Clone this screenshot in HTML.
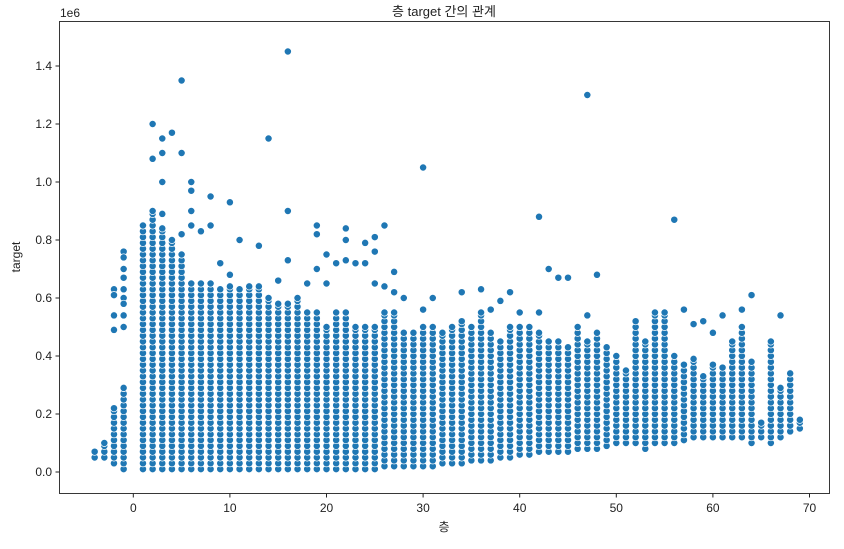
<!DOCTYPE html>
<html><head><meta charset="utf-8"><style>
body{margin:0;background:#fff}
text{font-family:"Liberation Sans","Noto Sans CJK KR",sans-serif;fill:#222}
</style></head><body>
<svg id="chart" width="844" height="544" xmlns="http://www.w3.org/2000/svg">
<text x="444" y="16" font-size="13" text-anchor="middle">층 target 간의 관계</text>
<g id="marks"></g>
<rect x="59.5" y="21.5" width="770" height="472" fill="none" stroke="#222" stroke-width="0.9"/>
<g id="xt"></g>
<g id="yt"></g>
<text x="444" y="531" font-size="12" text-anchor="middle">층</text>
<text transform="translate(20,257) rotate(-90)" font-size="12" text-anchor="middle">target</text>
<text x="60" y="17" font-size="12">1e6</text>
</svg>
<script>
const floors=[-4,-3,-2,-1,1,2,3,4,5,6,7,8,9,10,11,12,13,14,15,16,17,18,19,20,21,22,23,24,25,26,27,28,29,30,31,32,33,34,35,36,37,38,39,40,41,42,43,44,45,46,47,48,49,50,51,52,53,54,55,56,57,58,59,60,61,62,63,64,65,66,67,68,69];
const highs=[0.07,0.1,0.22,0.29,0.85,0.9,0.84,0.8,0.75,0.65,0.65,0.65,0.63,0.64,0.63,0.64,0.64,0.6,0.58,0.58,0.6,0.55,0.55,0.5,0.55,0.55,0.5,0.5,0.5,0.55,0.55,0.48,0.48,0.5,0.5,0.48,0.5,0.52,0.5,0.55,0.48,0.45,0.5,0.5,0.5,0.48,0.45,0.45,0.43,0.5,0.45,0.48,0.43,0.4,0.35,0.52,0.45,0.55,0.55,0.4,0.37,0.39,0.33,0.37,0.36,0.45,0.5,0.38,0.17,0.45,0.29,0.34,0.18];
const lows=[0.05,0.05,0.03,0.01,0.01,0.01,0.01,0.01,0.01,0.01,0.01,0.01,0.01,0.01,0.01,0.01,0.01,0.01,0.01,0.01,0.01,0.01,0.01,0.01,0.01,0.01,0.01,0.01,0.01,0.02,0.02,0.02,0.02,0.02,0.02,0.03,0.03,0.03,0.04,0.04,0.04,0.05,0.05,0.06,0.06,0.07,0.07,0.07,0.07,0.08,0.08,0.08,0.09,0.1,0.1,0.1,0.08,0.1,0.1,0.1,0.11,0.12,0.12,0.12,0.12,0.12,0.12,0.1,0.12,0.1,0.12,0.14,0.15];
const outX=[2,2,3,3,3,3,4,5,5,5,6,6,6,6,7,8,8,9,10,10,11,13,14,15,16,16,16,18,19,19,19,20,20,21,22,22,22,23,24,24,25,25,25,26,26,27,27,28,30,30,31,34,36,37,38,39,40,42,42,43,44,45,47,47,48,56,57,58,59,60,61,63,64,67,-2,-2,-2,-2,-1,-1,-1,-1,-1,-1,-1,-1,-1];
const outY=[1.2,1.08,1.15,1.1,1.0,0.89,1.17,1.35,1.1,0.82,1.0,0.97,0.9,0.85,0.83,0.95,0.85,0.72,0.93,0.68,0.8,0.78,1.15,0.66,1.45,0.9,0.73,0.65,0.85,0.82,0.7,0.75,0.65,0.72,0.84,0.8,0.73,0.72,0.79,0.72,0.81,0.76,0.65,0.85,0.64,0.69,0.62,0.6,1.05,0.56,0.6,0.62,0.63,0.56,0.59,0.62,0.55,0.88,0.55,0.7,0.67,0.67,1.3,0.54,0.68,0.87,0.56,0.51,0.52,0.48,0.54,0.56,0.61,0.54,0.63,0.61,0.54,0.49,0.76,0.74,0.7,0.67,0.63,0.6,0.58,0.54,0.5];
const xTicks=[0,10,20,30,40,50,60,70];
const yTicks=[0,0.2,0.4,0.6,0.8,1.0,1.2,1.4];
const xs=v=>133.3+v*9.66, ys=v=>472-v*290;
const NS='http://www.w3.org/2000/svg', g=document.getElementById('marks');
function dot(x,y){const c=document.createElementNS(NS,'circle');


c.setAttribute('cx',xs(x));c.setAttribute('cy',ys(y));c.setAttribute('r',3.6);
c.setAttribute('fill','#1f77b4');c.setAttribute('stroke','#fff');c.setAttribute('stroke-width','0.7');g.appendChild(c);}
floors.forEach((f,i)=>{for(let v=lows[i];v<=highs[i]+1e-9;v+=0.02)dot(f,v);dot(f,highs[i]);});
outX.forEach((x,i)=>dot(x,outY[i]));
const xt=document.getElementById('xt'),yt=document.getElementById('yt');
xTicks.forEach(t=>{const x=xs(t);const l=document.createElementNS(NS,'line');

l.setAttribute('x1',x);l.setAttribute('x2',x);l.setAttribute('y1',493.5);l.setAttribute('y2',497.5);l.setAttribute('stroke','#222');xt.appendChild(l);
const s=document.createElementNS(NS,'text');
s.setAttribute('x',x);s.setAttribute('y',512);s.setAttribute('font-size','12');s.setAttribute('text-anchor','middle');s.textContent=t;xt.appendChild(s);});
yTicks.forEach(t=>{const y=ys(t);const l=document.createElementNS(NS,'line');

l.setAttribute('x1',55.5);l.setAttribute('x2',59.5);l.setAttribute('y1',y);l.setAttribute('y2',y);l.setAttribute('stroke','#222');yt.appendChild(l);
const s=document.createElementNS(NS,'text');
s.setAttribute('x',52);s.setAttribute('y',y+4);s.setAttribute('font-size','12');s.setAttribute('text-anchor','end');s.textContent=t.toFixed(1);yt.appendChild(s);});
</script>
</body></html>
